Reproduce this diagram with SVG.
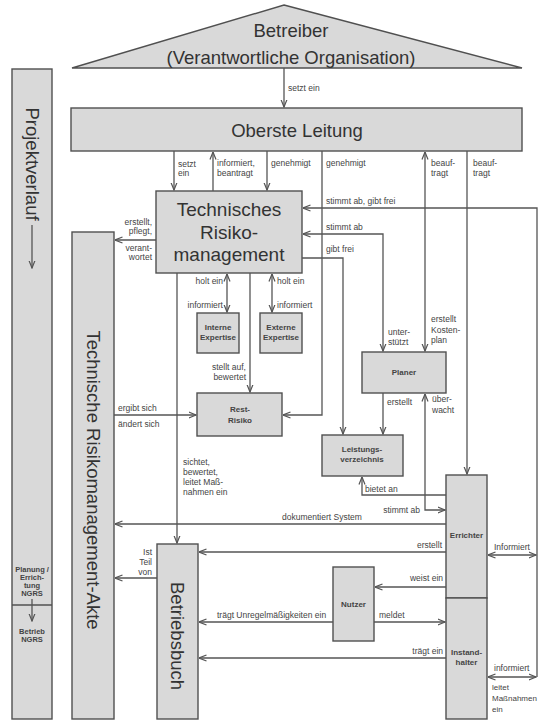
<svg xmlns="http://www.w3.org/2000/svg" width="538" height="722" viewBox="0 0 538 722">
<defs>
<style>
.box{fill:#d9d9d9;stroke:#505050;stroke-width:1.4}
.ln{fill:none;stroke:#555;stroke-width:1.3}
.ar{marker-end:url(#ah)}
.ar2{marker-start:url(#ah);marker-end:url(#ah)}
text{font-family:"Liberation Sans",Arial,sans-serif;fill:#444}
.lbl{font-size:8.5px}
.big{font-size:18.5px;fill:#333}
.b{font-size:8px;font-weight:bold;fill:#444}
.s{font-size:7.5px;font-weight:bold;fill:#444}
.m{text-anchor:middle}
.e{text-anchor:end}
</style>
<marker id="ah" viewBox="0 0 8 8" refX="7.5" refY="4" markerWidth="8" markerHeight="8" orient="auto-start-reverse" markerUnits="userSpaceOnUse">
<path d="M0,1 L7.5,4 L0,7" fill="none" stroke="#555" stroke-width="1.2"/>
</marker>
</defs>
<rect width="538" height="722" fill="#fff"/>

<g id="betreiber">
<polygon class="box" points="284,5 522,68 72,68"/>
<text class="big m" x="291" y="37">Betreiber</text>
<text class="big m" x="291" y="64">(Verantwortliche Organisation)</text>
</g>

<g id="oberste-leitung">
<rect class="box" x="71" y="108" width="451" height="43"/>
<text class="big m" x="297" y="137">Oberste Leitung</text>
</g>

<g id="projektverlauf">
<rect class="box" x="12" y="69" width="40" height="650"/>
<line x1="12" y1="605" x2="52" y2="605" stroke="#505050" stroke-width="1.3"/>
<text class="big m" transform="translate(32,164) rotate(90)" dominant-baseline="central">Projektverlauf</text>
<text class="s m" x="32" y="572">Planung /</text>
<text class="s m" x="32" y="580">Errich-</text>
<text class="s m" x="32" y="588">tung</text>
<text class="s m" x="32" y="596">NGRS</text>
<text class="s m" x="32" y="634">Betrieb</text>
<text class="s m" x="32" y="642">NGRS</text>
</g>

<g id="trm-akte">
<rect class="box" x="72" y="232" width="42" height="487"/>
<text class="big m" transform="translate(93,480) rotate(90)" dominant-baseline="central">Technische Risikomanagement-Akte</text>
</g>

<g id="trm">
<rect class="box" x="156" y="191" width="146" height="82"/>
<text class="m" x="229" y="216" style="font-size:19px;fill:#333">Technisches</text>
<text class="m" x="229" y="239" style="font-size:19px;fill:#333">Risiko-</text>
<text class="m" x="229" y="261" style="font-size:19px;fill:#333">management</text>
</g>

<g id="interne-expertise">
<rect class="box" x="197" y="313" width="42" height="40"/>
<text class="b m" x="218" y="330">Interne</text>
<text class="b m" x="218" y="340">Expertise</text>
</g>

<g id="externe-expertise">
<rect class="box" x="260" y="313" width="42" height="40"/>
<text class="b m" x="281" y="330">Externe</text>
<text class="b m" x="281" y="340">Expertise</text>
</g>

<g id="rest-risiko">
<rect class="box" x="197" y="393" width="85" height="43"/>
<text class="b m" x="240" y="412">Rest-</text>
<text class="b m" x="240" y="423">Risiko</text>
</g>

<g id="planer">
<rect class="box" x="362" y="352" width="84" height="41"/>
<text class="b m" x="404" y="375">Planer</text>
</g>

<g id="leistungsverzeichnis">
<rect class="box" x="322" y="435" width="81" height="41"/>
<text class="b m" x="362" y="452">Leistungs-</text>
<text class="b m" x="362" y="462">verzeichnis</text>
</g>

<g id="errichter">
<rect class="box" x="446" y="475" width="41" height="123"/>
<text class="b m" x="466.5" y="538">Errichter</text>
</g>

<g id="instandhalter">
<rect class="box" x="446" y="598" width="41" height="121"/>
<text class="b m" x="466.5" y="655">Instand-</text>
<text class="b m" x="466.5" y="665">halter</text>
</g>

<g id="betriebsbuch">
<rect class="box" x="157" y="544" width="41" height="175"/>
<text class="big m" transform="translate(177,636) rotate(90)" dominant-baseline="central">Betriebsbuch</text>
</g>

<g id="nutzer">
<rect class="box" x="333" y="567" width="41" height="74"/>
<text class="b m" x="353.5" y="607">Nutzer</text>
</g>

<g id="connectors">
<path class="ln ar" d="M284,68 V107"/>
<path class="ln ar" d="M174,151 V190"/>
<path class="ln ar" d="M213,191 V152"/>
<path class="ln ar" d="M267,151 V190"/>
<path class="ln ar" d="M322,151 V415 H283"/>
<path class="ln ar2" d="M425,152 V351"/>
<path class="ln ar" d="M467,151 V474"/>
<path class="ln" d="M303,208 H537 V677" style="marker-start:url(#ah)"/>
<path class="ln ar2" d="M488,555 H536"/>
<path class="ln ar2" d="M488,677 H536"/>
<path class="ln ar2" d="M303,234 H383 V351"/>
<path class="ln ar" d="M302,258 H343 V434"/>
<path class="ln ar" d="M156,240 H115"/>
<path class="ln ar" d="M177,273 V543"/>
<path class="ln ar2" d="M227,274 V312"/>
<path class="ln ar2" d="M272,274 V312"/>
<path class="ln ar" d="M250,273 V392"/>
<path class="ln ar" d="M114,415 H196"/>
<path class="ln ar" d="M383,393 V434"/>
<path class="ln ar2" d="M425,394 V510 H445"/>
<path class="ln ar" d="M446,495 H362 V477"/>
<path class="ln ar" d="M446,524 H115"/>
<path class="ln ar" d="M446,552 H199"/>
<path class="ln ar" d="M446,587 H375"/>
<path class="ln ar" d="M374,622 H445"/>
<path class="ln ar" d="M333,622 H199"/>
<path class="ln ar" d="M446,658 H199"/>
<path class="ln ar" d="M157,578 H115"/>
<path class="ln ar" d="M32,225 V268"/>
<path class="ln ar" d="M32,599 V621"/>
</g>

<g id="labels" class="lbl">
<text x="288" y="91">setzt ein</text>
<text x="178" y="167">setzt</text>
<text x="178" y="176">ein</text>
<text x="217" y="166">informiert,</text>
<text x="217" y="176">beantragt</text>
<text x="271" y="166">genehmigt</text>
<text x="326" y="166">genehmigt</text>
<text x="431" y="166">beauf-</text>
<text x="431" y="176">tragt</text>
<text x="473" y="166">beauf-</text>
<text x="473" y="176">tragt</text>
<text x="326" y="204">stimmt ab, gibt frei</text>
<text x="326" y="230">stimmt ab</text>
<text x="326" y="252">gibt frei</text>
<text class="e" x="152" y="225">erstellt,</text>
<text class="e" x="152" y="234">pflegt,</text>
<text class="e" x="152" y="251">verant-</text>
<text class="e" x="152" y="260">wortet</text>
<text class="e" x="223" y="284">holt ein</text>
<text class="e" x="223" y="308">informiert</text>
<text x="277" y="284">holt ein</text>
<text x="277" y="308">informiert</text>
<text class="e" x="246" y="370">stellt auf,</text>
<text class="e" x="246" y="380">bewertet</text>
<text x="118" y="411">ergibt sich</text>
<text x="118" y="427">ändert sich</text>
<text x="183" y="465">sichtet,</text>
<text x="183" y="475">bewertet,</text>
<text x="183" y="485">leitet Maß-</text>
<text x="183" y="495">nahmen ein</text>
<text x="388" y="335">unter-</text>
<text x="388" y="345">stützt</text>
<text x="431" y="322">erstellt</text>
<text x="431" y="333">Kosten-</text>
<text x="431" y="343">plan</text>
<text x="387" y="405">erstellt</text>
<text x="432" y="402">über-</text>
<text x="432" y="413">wacht</text>
<text x="365" y="492">bietet an</text>
<text class="e" x="420" y="513">stimmt ab</text>
<text x="282" y="520">dokumentiert System</text>
<text class="e" x="442" y="548">erstellt</text>
<text x="494" y="550">Informiert</text>
<text class="e" x="443" y="581">weist ein</text>
<text x="379" y="618">meldet</text>
<text x="217" y="618">trägt Unregelmäßigkeiten ein</text>
<text class="e" x="443" y="654">trägt ein</text>
<text x="494" y="671">informiert</text>
<text x="492" y="690" style="font-size:8px">leitet</text>
<text x="492" y="701" style="font-size:8px">Maßnahmen</text>
<text x="492" y="712" style="font-size:8px">ein</text>
<text class="e" x="152" y="555">Ist</text>
<text class="e" x="152" y="565">Teil</text>
<text class="e" x="152" y="575">von</text>
</g>
</svg>
